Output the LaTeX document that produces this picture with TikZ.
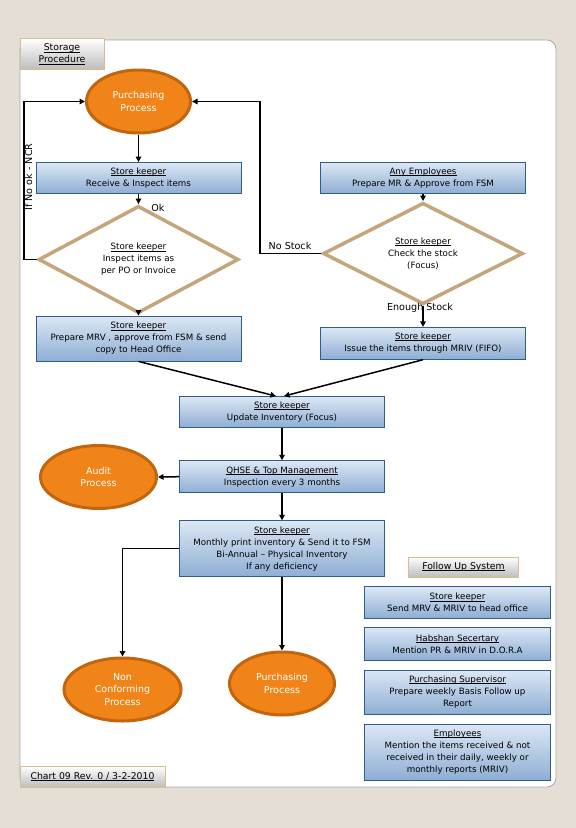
\documentclass[tikz,border=0pt]{standalone}
\usepackage{fontspec}
\setmainfont{DejaVu Sans}
\usetikzlibrary{shapes.geometric,arrows.meta}
\definecolor{bg}{HTML}{E4DED5}
\definecolor{boxtop}{HTML}{DCE7F4}
\definecolor{boxbot}{HTML}{8EAED4}
\definecolor{boxbord}{HTML}{2F5E8C}
\definecolor{ellfill}{HTML}{F08418}
\definecolor{ellbord}{HTML}{C2650E}
\definecolor{diabord}{HTML}{C4A57C}
\definecolor{tabbord}{HTML}{D6BF8E}
\definecolor{tabgray}{HTML}{BDBDBD}
\definecolor{panelbord}{HTML}{A8A8A8}
\newcommand\myul[1]{\setbox0\hbox{#1}\rlap{\rule[-1.3pt]{\wd0}{0.55pt}}\box0}
\begin{document}
\begin{tikzpicture}[x=1pt,y=-1pt,
  box/.style={draw=boxbord, line width=0.8pt, top color=boxtop, bottom color=boxbot,
    minimum width=205pt, inner sep=0pt, align=center, font=\fontsize{8.7}{12}\selectfont},
  fbox/.style={box, minimum width=186pt},
  proc/.style={ellipse, draw=ellbord, line width=3pt, fill=ellfill, text=white,
    align=center, inner sep=0pt, font=\fontsize{9.5}{12.3}\selectfont},
  dec/.style={diamond, draw=diabord, line width=3.5pt, fill=white, align=center,
    inner sep=0pt, minimum width=200pt, font=\fontsize{8.7}{12}\selectfont},
  tabbox/.style={draw=tabbord, line width=0.8pt, top color=white, bottom color=tabgray,
    align=center, inner sep=0pt, font=\fontsize{9.3}{12}\selectfont},
  lbl/.style={inner sep=0pt, font=\fontsize{9.6}{12}\selectfont},
  arr/.style={-{Triangle[length=5.5pt,width=5.5pt]}, line width=1.5pt, black}
]
\useasboundingbox (0,0) rectangle (576,828);
\fill[bg] (0,0) rectangle (576,828);
\draw[panelbord, fill=white, line width=0.8pt, rounded corners=9pt] (20,40) rectangle (556,787);

% main flow nodes
\node[proc, minimum width=104pt, minimum height=63pt] (p1) at (138.5,101.5) {Purchasing\\Process};
\node[box, minimum height=31pt] (b1) at (138.5,178) {\myul{Store keeper}\\Receive \& Inspect items};
\node[box, minimum height=31pt] (b2) at (423,178) {\myul{Any Employees}\\Prepare MR \& Approve from FSM};
\node[dec, minimum height=75pt] (d1) at (138.5,259.5) {\myul{Store keeper}\\Inspect items as\\per PO or Invoice};
\node[dec, minimum height=77pt] (d2) at (423,253.5) {\myul{Store keeper}\\Check the stock\\(Focus)};
\node[box, minimum height=45pt] (b3) at (138.5,338.5) {\myul{Store keeper}\\Prepare MRV , approve from FSM \& send\\copy to Head Office};
\node[box, minimum height=32pt] (b4) at (423,343.3) {\myul{Store keeper}\\Issue the items through MRIV (FIFO)};
\node[box, minimum height=31pt] (b5) at (282,412) {\myul{Store keeper}\\Update Inventory (Focus)};
\node[box, minimum height=32pt] (b6) at (282,476.7) {\myul{QHSE \& Top Management}\\Inspection every 3 months};
\node[proc, minimum width=116pt, minimum height=63pt] (a1) at (98.5,477) {Audit\\Process};
\node[box, minimum height=56pt] (b7) at (282,548.7) {\myul{Store keeper}\\Monthly print inventory \& Send it to FSM\\Bi-Annual -- Physical Inventory\\If any deficiency};
\node[proc, minimum width=117pt, minimum height=63pt] (n1) at (122.5,689.5) {Non\\Conforming\\Process};
\node[proc, minimum width=105pt, minimum height=63pt] (p2) at (282,683.5) {Purchasing\\Process};

% follow up system
\node[tabbox, minimum width=110pt, minimum height=20pt] (t2) at (463.5,567) {\myul{Follow Up System}};
\node[fbox, minimum height=31.5pt] (f1) at (457.5,602.5) {\myul{Store keeper}\\Send MRV \& MRIV to head office};
\node[fbox, minimum height=33pt] (f2) at (457.5,644) {\myul{Habshan Secertary}\\Mention PR \& MRIV in D.O.R.A};
\node[fbox, minimum height=44pt] (f3) at (457.5,692) {\myul{Purchasing Supervisor}\\Prepare weekly Basis Follow up\\Report};
\node[fbox, minimum height=56pt] (f4) at (457.5,752.3) {\myul{Employees}\\Mention the items received \& not\\received in their daily, weekly or\\monthly reports (MRIV)};

% tabs
\node[tabbox, minimum width=84pt, minimum height=31pt] (t1) at (62,54) {\myul{Storage}\\\myul{Procedure}};
\node[tabbox, minimum width=145pt, minimum height=21pt] (t3) at (92.5,776.5) {\myul{Chart 09 Rev. 0 / 3-2-2010}};

% labels
\node[lbl] (lok) at (158,208) {Ok};
\node[lbl] (lno) at (290,245.5) {No Stock};
\node[lbl] (len) at (420,308) {Enough Stock};
\node[lbl, rotate=90] (lncr) at (28.5,177) {If No ok - NCR};

% connector corner points
\coordinate (lp) at (24,101.5);
\coordinate (rp) at (260,101.5);

% connectors
\draw[arr] (p1.south) -- (b1.north);
\draw[arr] (b1.south) -- (d1.north);
\draw[arr] (d1.south) -- (b3.north);
\draw[arr] (d1.west) -| (lp) -- (p1.west);
\draw[arr] (d2.west) -| (rp) -- (p1.east);
\draw[arr] (b2.south) -- (d2.north);
\draw[arr] (d2.south) -- (b4.north);
\draw[arr] (b3.south) -- ([xshift=-6pt]b5.north);
\draw[arr] (b4.south) -- ([xshift=2pt]b5.north);
\draw[arr] (b5.south) -- (b6.north);
\draw[arr] (b6.west) -- (a1.east);
\draw[arr] (b6.south) -- (b7.north);
\draw[arr] (b7.west) -| (n1.north);
\draw[arr] (b7.south) -- (p2.north);
\end{tikzpicture}
\end{document}
